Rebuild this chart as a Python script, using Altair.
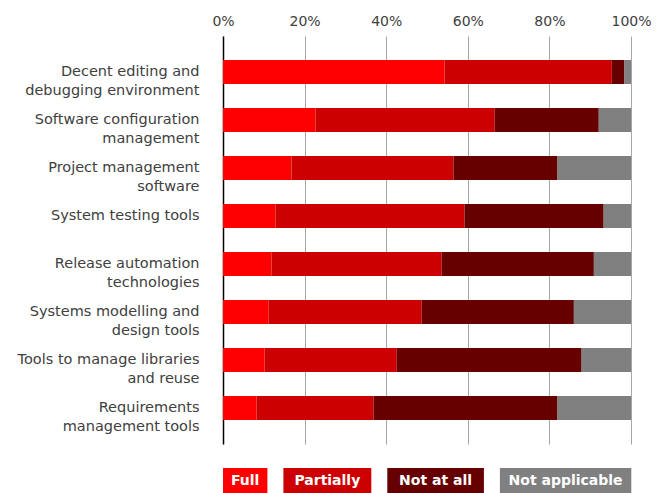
import json
import altair as alt
import pandas as pd

# ---- data ----
CATEGORY_LINES = [
    ["Decent editing and", "debugging environment"],
    ["Software configuration", "management"],
    ["Project management", "software"],
    ["System testing tools"],
    ["Release automation", "technologies"],
    ["Systems modelling and", "design tools"],
    ["Tools to manage libraries", "and reuse"],
    ["Requirements", "management tools"],
]
STATUSES = ["Full", "Partially", "Not at all", "Not applicable"]
FULL = [54.3, 22.7, 16.8, 12.9, 11.9, 11.2, 10.2, 8.2]
PARTIALLY = [41.0, 43.9, 39.7, 46.3, 41.7, 37.5, 32.4, 28.7]
NOT_AT_ALL = [3.1, 25.5, 25.5, 34.1, 37.3, 37.3, 45.3, 45.1]
NOT_APPLICABLE = [1.6, 7.9, 18.0, 6.7, 9.1, 14.0, 12.1, 18.0]
TICKS = [0, 20, 40, 60, 80, 100]

# ---- styles ----
COLORS = ["#FF0000", "#CC0000", "#660000", "#808080"]
TEXT_COLOR = "#404040"
FONT = "DejaVu Sans"
PLOT_W = 408
PLOT_H = 408
LEGEND_CHAR_PX = 8.7
LEGEND_PAD_PX = 9.6
LEGEND_GAP_PX = 16
LEGEND_TOP = 432
LEGEND_H = 25

categories = [" ".join(l) for l in CATEGORY_LINES]
series = [FULL, PARTIALLY, NOT_AT_ALL, NOT_APPLICABLE]
rows = []
for si, (status, vals) in enumerate(zip(STATUSES, series)):
    for cat, v in zip(categories, vals):
        rows.append({"category": cat, "status": status, "value": v, "idx": si})
df = pd.DataFrame(rows)

# legend boxes sized from label length, expressed in x-scale units
px_per_unit = PLOT_W / 100.0
leg_rows = []
cursor = 0.0
for s in STATUSES:
    w = (len(s) * LEGEND_CHAR_PX + LEGEND_PAD_PX) / px_per_unit
    leg_rows.append({"status": s, "x0": cursor, "x1": cursor + w, "xc": cursor + w / 2})
    cursor += w + LEGEND_GAP_PX / px_per_unit
leg = pd.DataFrame(leg_rows)

label_map = json.dumps({" ".join(l): l for l in CATEGORY_LINES})

xscale = alt.Scale(domain=[0, 100], nice=False)
cscale = alt.Scale(domain=STATUSES, range=COLORS)

bars = alt.Chart(df).mark_bar().encode(
    x=alt.X(
        "value:Q",
        stack="zero",
        scale=xscale,
        title=None,
        axis=alt.Axis(
            orient="top",
            values=TICKS,
            labelExpr="datum.value + '%'",
            title=None,
            domain=False,
            ticks=False,
            grid=True,
            gridColor="#A6A6A6",
            gridWidth=1,
            labelFont=FONT,
            labelFontSize=14,
            labelColor=TEXT_COLOR,
            labelPadding=8,
            labelFlush=False,
            labelAlign="center",
            labelOverlap=False,
        ),
    ),
    y=alt.Y(
        "category:N",
        sort=categories,
        scale=alt.Scale(paddingInner=0.5, paddingOuter=0.5),
        axis=alt.Axis(
            title=None,
            ticks=False,
            domain=True,
            domainColor="#000000",
            domainWidth=1.5,
            grid=False,
            labelExpr=label_map + "[datum.value]",
            labelFont=FONT,
            labelFontSize=14.5,
            labelColor=TEXT_COLOR,
            labelLineHeight=19,
            labelPadding=24,
            labelLimit=400,
        ),
    ),
    color=alt.Color("status:N", scale=cscale, legend=None),
    order=alt.Order("idx:Q"),
)

legend_rect = alt.Chart(leg).mark_rect().encode(
    x=alt.X("x0:Q", scale=xscale, title=None),
    x2="x1:Q",
    y=alt.value(LEGEND_TOP),
    y2=alt.value(LEGEND_TOP + LEGEND_H),
    color=alt.Color("status:N", scale=cscale, legend=None),
)

legend_text = alt.Chart(leg).mark_text(
    font=FONT, fontSize=14, fontWeight="bold", color="white",
    align="center", baseline="middle",
).encode(
    x=alt.X("xc:Q", scale=xscale, title=None),
    y=alt.value(LEGEND_TOP + LEGEND_H / 2),
    text="status:N",
)

chart = alt.layer(bars, legend_rect, legend_text).properties(
    width=PLOT_W,
    height=PLOT_H,
    autosize=alt.AutoSizeParams(type="none"),
    padding={"left": 223, "top": 36, "right": 36, "bottom": 49},
    background="white",
).configure_view(stroke=None)

chart.save("out.html", embed_options={"renderer": "svg", "actions": False})
